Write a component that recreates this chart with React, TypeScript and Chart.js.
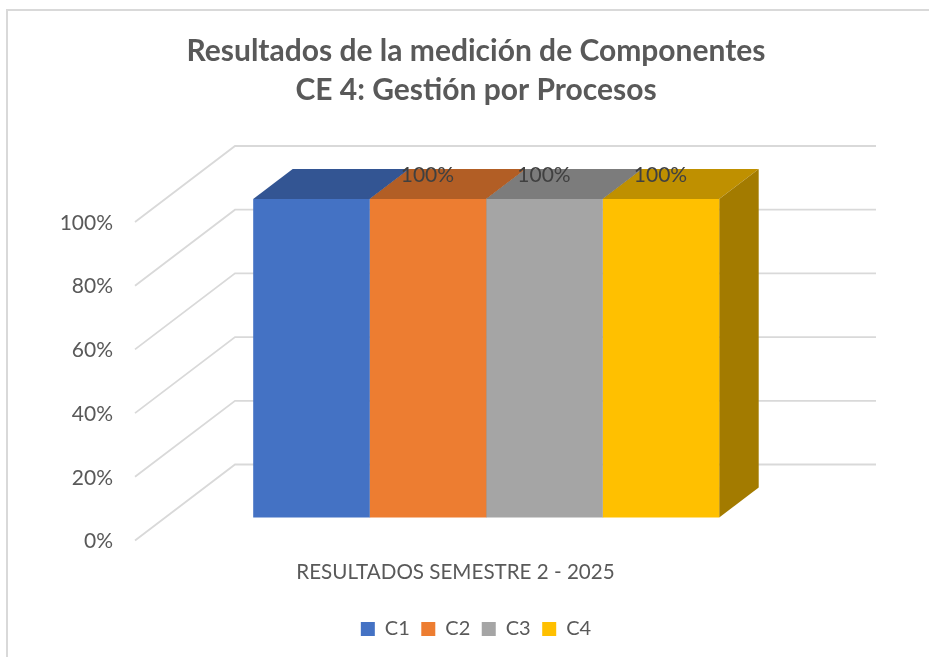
import React, { useEffect, useRef } from "react";
import { Chart, registerables } from "chart.js";

Chart.register(...registerables);

const titleLines = ["Resultados de la medición de Componentes", "CE 4: Gestión por Procesos"];
const categories = ["RESULTADOS SEMESTRE 2 - 2025"];
const seriesNames = ["C1", "C2", "C3", "C4"];
const c1Values = [1];
const c2Values = [1];
const c3Values = [1];
const c4Values = [1];
const seriesValues = [c1Values, c2Values, c3Values, c4Values];
const frontColors = ["#4472C4", "#ED7D31", "#A5A5A5", "#FFC000"];
const topColors = ["#335593", "#B25E25", "#7C7C7C", "#BF9000"];
const sideColors = ["#29447A", "#8E4B1D", "#636363", "#A37B00"];
const showValueLabel = [false, true, true, true];

const FONT = "Lato, Carlito, sans-serif";
const WALL_DX = 100;
const WALL_DY = -76;
const BAR_DX = 30.7;
const BAR_DY = -23;
const DEPTH_DX = 39.5;
const DEPTH_DY = -30;

const depthPlugin = {
  id: "depth3d",
  beforeDatasetsDraw(chart: any) {
    const { ctx, scales } = chart;
    const x = scales.x;
    const y = scales.y;
    ctx.save();
    ctx.strokeStyle = "#D9D9D9";
    ctx.lineWidth = 1.8;
    y.ticks.forEach((t: any) => {
      const py = y.getPixelForValue(t.value);
      ctx.beginPath();
      ctx.moveTo(x.left, py);
      ctx.lineTo(x.left + WALL_DX, py + WALL_DY);
      ctx.lineTo(x.right + WALL_DX, py + WALL_DY);
      ctx.stroke();
    });
    ctx.translate(BAR_DX, BAR_DY);
    seriesValues.forEach((_, i) => {
      const bar = chart.getDatasetMeta(i).data[0];
      const l = bar.x - bar.width / 2;
      const r = bar.x + bar.width / 2;
      ctx.fillStyle = topColors[i];
      ctx.beginPath();
      ctx.moveTo(l, bar.y);
      ctx.lineTo(l + DEPTH_DX, bar.y + DEPTH_DY);
      ctx.lineTo(r + DEPTH_DX, bar.y + DEPTH_DY);
      ctx.lineTo(r, bar.y);
      ctx.closePath();
      ctx.fill();
      ctx.fillStyle = sideColors[i];
      ctx.beginPath();
      ctx.moveTo(r, bar.y);
      ctx.lineTo(r + DEPTH_DX, bar.y + DEPTH_DY);
      ctx.lineTo(r + DEPTH_DX, bar.base + DEPTH_DY);
      ctx.lineTo(r, bar.base);
      ctx.closePath();
      ctx.fill();
    });
    ctx.restore();
    ctx.save();
    ctx.translate(BAR_DX, BAR_DY);
  },
  afterDatasetsDraw(chart: any) {
    const { ctx } = chart;
    ctx.restore();
    ctx.save();
    ctx.fillStyle = "#404040";
    ctx.font = `21px ${FONT}`;
    ctx.textAlign = "center";
    ctx.textBaseline = "middle";
    seriesValues.forEach((vals, i) => {
      if (!showValueLabel[i]) return;
      const bar = chart.getDatasetMeta(i).data[0];
      ctx.fillText(`${Math.round(vals[0] * 100)}%`, bar.x + BAR_DX - 0.5, bar.y + BAR_DY - 24);
    });
    ctx.restore();
  },
};

export default function App() {
  const ref = useRef<HTMLCanvasElement>(null);
  useEffect(() => {
    const chart = new Chart(ref.current!, {
      type: "bar",
      data: {
        labels: categories,
        datasets: seriesNames.map((name, i) => ({
          label: name,
          data: seriesValues[i],
          backgroundColor: frontColors[i],
          borderWidth: 0,
          barPercentage: 1,
          categoryPercentage: 0.727,
          clip: false,
        })),
      },
      options: {
        responsive: false,
        animation: false,
        layout: { padding: { left: 23, right: 0, top: 0, bottom: 8 } },
        plugins: {
          tooltip: { enabled: false },
          title: {
            display: true,
            text: titleLines,
            color: "#595959",
            font: { family: FONT, size: 30, weight: "bold", lineHeight: 39 / 30 },
            padding: { top: 32, bottom: 112 },
          },
          legend: {
            position: "bottom",
            labels: {
              boxWidth: 14,
              boxHeight: 14,
              padding: 11.5,
              color: "#595959",
              font: { family: FONT, size: 20 },
            },
          },
        },
        scales: {
          x: {
            grid: { display: false, drawTicks: false },
            border: { display: false },
            ticks: { color: "#595959", font: { family: FONT, size: 20.6 }, padding: 19, maxRotation: 0 },
            afterFit: (s: any) => { s.height = 67; },
          },
          y: {
            min: 0,
            max: 1,
            grid: { display: false, drawTicks: false },
            border: { display: false },
            ticks: {
              stepSize: 0.2,
              color: "#595959",
              font: { family: FONT, size: 21 },
              padding: 22,
              labelOffset: 1,
              callback: (v: any) => `${Math.round(Number(v) * 100)}%`,
            },
            afterFit: (s: any) => { s.width = 112; },
          },
          rightGap: {
            position: "right",
            grid: { display: false, drawTicks: false },
            border: { display: false },
            ticks: { display: false },
            afterFit: (s: any) => { s.width = 153; },
          },
        },
      } as any,
      plugins: [depthPlugin],
    });
    return () => chart.destroy();
  }, []);
  return (
    <div style={{ position: "fixed", left: 0, top: 0, width: 929, height: 657, overflow: "hidden", background: "#fff" }}>
      <div style={{ position: "absolute", left: 6, top: 9, width: 1200, height: 1200, border: "2px solid #D9D9D9" }} />
      <canvas ref={ref} width={929} height={657} style={{ position: "absolute", left: 0, top: 0, display: "block" }} />
    </div>
  );
}
